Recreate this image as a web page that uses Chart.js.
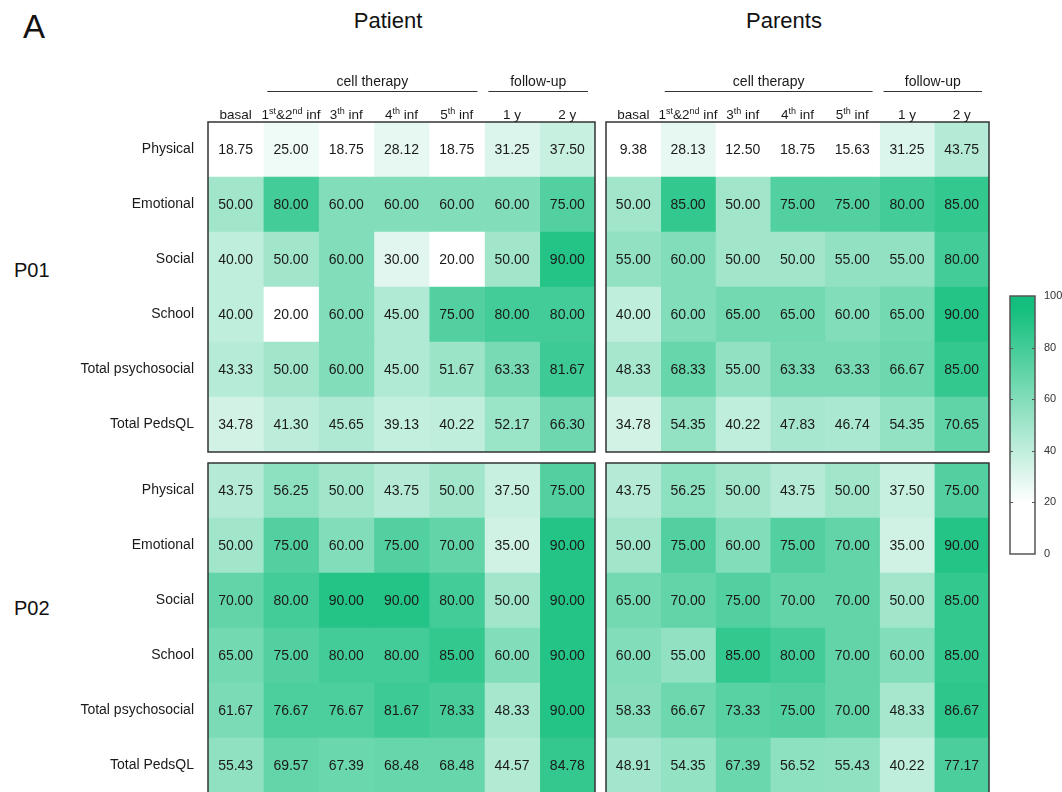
<!DOCTYPE html>
<html>
<head>
<meta charset="utf-8">
<script src="https://cdn.jsdelivr.net/npm/chart.js@4.4.0/dist/chart.umd.min.js"></script>
<style>
    html, body { margin: 0; padding: 0; background: #fff; overflow: hidden; }
    #fig { position: relative; width: 1062px; height: 792px; overflow: hidden;
           font-family: "Liberation Sans", Arial, sans-serif; color: #111; }
    #fig canvas { position: absolute; }
    .lbl { position: absolute; white-space: nowrap; line-height: 1; }
    .ttl { position: absolute; width: 200px; text-align: center; font-size: 22px; line-height: 1; }
</style>
</head>
<body>
<div id="fig">
    <div class="lbl" style="left:23px; top:10px; font-size:33px;">A</div>
    <div class="ttl" style="left:288px; top:10px;">Patient</div>
    <div class="ttl" style="left:684px; top:10px;">Parents</div>
    <div class="lbl" style="left:14px; top:260px; font-size:20px;">P01</div>
    <div class="lbl" style="left:14px; top:598px; font-size:20px;">P02</div>

    <canvas id="p01PatientChart" width="600" height="418" style="left:0; top:57px;"></canvas>
    <canvas id="p01ParentsChart" width="393" height="418" style="left:601px; top:57px;"></canvas>
    <canvas id="p02PatientChart" width="600" height="376" style="left:0; top:440px;"></canvas>
    <canvas id="p02ParentsChart" width="393" height="376" style="left:601px; top:440px;"></canvas>
    <canvas id="scaleChart" width="62" height="290" style="left:1000px; top:280px;"></canvas>
</div>

<script>
// ---- data ----
// column labels: text between ^ is superscript
const colLabels = ['basal', '1^st^&2^nd^ inf', '3^th^ inf', '4^th^ inf', '5^th^ inf', '1 y', '2 y'];
const rowLabels = ['Physical', 'Emotional', 'Social', 'School', 'Total psychosocial', 'Total PedsQL'];
const colGroups = [
    { label: 'cell therapy', from: 1, to: 5 },
    { label: 'follow-up', from: 5, to: 7 }
];
const scaleTicks = [0, 20, 40, 60, 80, 100];

const p01Patient = [
    [18.75, 25.00, 18.75, 28.12, 18.75, 31.25, 37.50],
    [50.00, 80.00, 60.00, 60.00, 60.00, 60.00, 75.00],
    [40.00, 50.00, 60.00, 30.00, 20.00, 50.00, 90.00],
    [40.00, 20.00, 60.00, 45.00, 75.00, 80.00, 80.00],
    [43.33, 50.00, 60.00, 45.00, 51.67, 63.33, 81.67],
    [34.78, 41.30, 45.65, 39.13, 40.22, 52.17, 66.30]
];
const p01Parents = [
    [9.38, 28.13, 12.50, 18.75, 15.63, 31.25, 43.75],
    [50.00, 85.00, 50.00, 75.00, 75.00, 80.00, 85.00],
    [55.00, 60.00, 50.00, 50.00, 55.00, 55.00, 80.00],
    [40.00, 60.00, 65.00, 65.00, 60.00, 65.00, 90.00],
    [48.33, 68.33, 55.00, 63.33, 63.33, 66.67, 85.00],
    [34.78, 54.35, 40.22, 47.83, 46.74, 54.35, 70.65]
];
const p02Patient = [
    [43.75, 56.25, 50.00, 43.75, 50.00, 37.50, 75.00],
    [50.00, 75.00, 60.00, 75.00, 70.00, 35.00, 90.00],
    [70.00, 80.00, 90.00, 90.00, 80.00, 50.00, 90.00],
    [65.00, 75.00, 80.00, 80.00, 85.00, 60.00, 90.00],
    [61.67, 76.67, 76.67, 81.67, 78.33, 48.33, 90.00],
    [55.43, 69.57, 67.39, 68.48, 68.48, 44.57, 84.78]
];
const p02Parents = [
    [43.75, 56.25, 50.00, 43.75, 50.00, 37.50, 75.00],
    [50.00, 75.00, 60.00, 75.00, 70.00, 35.00, 90.00],
    [65.00, 70.00, 75.00, 70.00, 70.00, 50.00, 85.00],
    [60.00, 55.00, 85.00, 80.00, 70.00, 60.00, 85.00],
    [58.33, 66.67, 73.33, 75.00, 70.00, 48.33, 86.67],
    [48.91, 54.35, 67.39, 56.52, 55.43, 40.22, 77.17]
];

const FONT = '"Liberation Sans", Arial, sans-serif';
const TEXT = '#1a1a1a';

// white below ~20, ramps to green near the top of the scale
function scoreColor(v) {
    const lo = [255, 255, 255], hi = [20, 191, 125];
    const t = Math.min(1, Math.max(0, (v - 20) / 75));
    const c = lo.map((l, i) => Math.round(l + (hi[i] - l) * t));
    return `rgb(${c[0]}, ${c[1]}, ${c[2]})`;
}

// draws cell values, the frame and (optionally) the column headers
function makePanelPlugin(values, withHeader) {
    return {
        id: 'panelDecor',
        afterDatasetsDraw(chart) {
            const { ctx, chartArea: a, scales: { x, y } } = chart;
            ctx.save();
            ctx.font = `14px ${FONT}`;
            ctx.fillStyle = TEXT;
            ctx.textAlign = 'center';
            ctx.textBaseline = 'middle';
            values.forEach((row, r) => row.forEach((v, c) => {
                ctx.fillText(v.toFixed(2), x.getPixelForValue(c + 0.5), y.getPixelForValue(r) + 1);
            }));

            ctx.strokeStyle = '#333';
            ctx.lineWidth = 1.5;
            ctx.strokeRect(a.left, a.top, a.width, a.height);

            if (withHeader) {
                // group captions with a rule underneath
                ctx.lineWidth = 1;
                ctx.font = `14px ${FONT}`;
                colGroups.forEach(g => {
                    const x0 = x.getPixelForValue(g.from) + 4;
                    const x1 = x.getPixelForValue(g.to) - 7;
                    ctx.beginPath();
                    ctx.moveTo(x0, a.top - 30.5);
                    ctx.lineTo(x1, a.top - 30.5);
                    ctx.stroke();
                    ctx.fillText(g.label, (x0 + x1) / 2, a.top - 40);
                });

                // column labels with superscripts
                ctx.textAlign = 'left';
                ctx.textBaseline = 'alphabetic';
                colLabels.forEach((lab, c) => {
                    const parts = lab.split('^').map((s, i) => ({
                        text: s,
                        sup: i % 2 === 1,
                        font: i % 2 === 1 ? `9px ${FONT}` : `13.5px ${FONT}`
                    }));
                    let w = 0;
                    parts.forEach(p => { ctx.font = p.font; p.w = ctx.measureText(p.text).width; w += p.w; });
                    let px = x.getPixelForValue(c + 0.5) - w / 2;
                    const base = a.top - 3;
                    parts.forEach(p => {
                        ctx.font = p.font;
                        ctx.fillText(p.text, px, p.sup ? base - 5 : base);
                        px += p.w;
                    });
                });
            }
            ctx.restore();
        }
    };
}

function makePanel(canvasId, values, showRows, withHeader, padding) {
    // one dataset per column, each bar spans one cell [c, c + 1]
    const datasets = colLabels.map((_, c) => ({
        data: rowLabels.map(() => [c, c + 1]),
        backgroundColor: values.map(row => scoreColor(row[c])),
        borderWidth: 0,
        grouped: false,
        barPercentage: 1,
        categoryPercentage: 1
    }));

    new Chart(document.getElementById(canvasId).getContext('2d'), {
        type: 'bar',
        data: { labels: rowLabels, datasets: datasets },
        options: {
            indexAxis: 'y',
            responsive: false,
            animation: false,
            layout: { padding: padding },
            plugins: { legend: { display: false }, tooltip: { enabled: false } },
            scales: {
                x: { type: 'linear', min: 0, max: colLabels.length, display: false },
                y: {
                    display: showRows,
                    grid: { display: false, drawTicks: false },
                    border: { display: false },
                    ticks: { color: TEXT, font: { family: FONT, size: 14 }, padding: 14 },
                    afterFit: (s) => { if (showRows) s.width = 208; }
                }
            }
        },
        plugins: [makePanelPlugin(values, withHeader)]
    });
}

makePanel('p01PatientChart', p01Patient, true, true, { top: 65, bottom: 23, left: 0, right: 5 });
makePanel('p01ParentsChart', p01Parents, false, true, { top: 65, bottom: 23, left: 5, right: 5 });
makePanel('p02PatientChart', p02Patient, true, false, { top: 23, bottom: 23, left: 0, right: 5 });
makePanel('p02ParentsChart', p02Parents, false, false, { top: 23, bottom: 23, left: 5, right: 5 });

// ---- colour scale bar ----
new Chart(document.getElementById('scaleChart').getContext('2d'), {
    type: 'bar',
    data: {
        labels: [''],
        datasets: [{
            data: [[scaleTicks[0], scaleTicks[scaleTicks.length - 1]]],
            backgroundColor: (ctx) => {
                const chart = ctx.chart;
                if (!chart.chartArea) return '#fff';
                const y = chart.scales.y;
                const y0 = y.getPixelForValue(0), y1 = y.getPixelForValue(100);
                const g = chart.ctx.createLinearGradient(0, y0, 0, y1);
                for (let v = 0; v <= 100; v += 5) g.addColorStop(v / 100, scoreColor(v));
                return g;
            },
            borderWidth: 0,
            barPercentage: 1,
            categoryPercentage: 1
        }]
    },
    options: {
        responsive: false,
        animation: false,
        layout: { padding: { top: 16, bottom: 16, left: 10, right: 0 } },
        plugins: { legend: { display: false }, tooltip: { enabled: false } },
        scales: {
            x: { display: false },
            y: {
                position: 'right',
                min: 0, max: 100,
                grid: { display: false, drawTicks: false },
                border: { display: false },
                ticks: { stepSize: 20, color: '#333', font: { family: FONT, size: 11 }, padding: 9 },
                afterFit: (s) => { s.width = 27; }
            }
        }
    },
    plugins: [{
        id: 'scaleFrame',
        afterDatasetsDraw(chart) {
            const { ctx, chartArea: a, scales: { y } } = chart;
            ctx.save();
            ctx.strokeStyle = '#555';
            ctx.lineWidth = 1.5;
            ctx.strokeRect(a.left, a.top, a.width, a.height);
            ctx.lineWidth = 1;
            scaleTicks.slice(1, -1).forEach(v => {
                const py = Math.round(y.getPixelForValue(v)) + 0.5;
                ctx.beginPath();
                ctx.moveTo(a.left, py); ctx.lineTo(a.left + 3, py);
                ctx.moveTo(a.right - 3, py); ctx.lineTo(a.right, py);
                ctx.stroke();
            });
            ctx.restore();
        }
    }]
});
</script>
</body>
</html>
